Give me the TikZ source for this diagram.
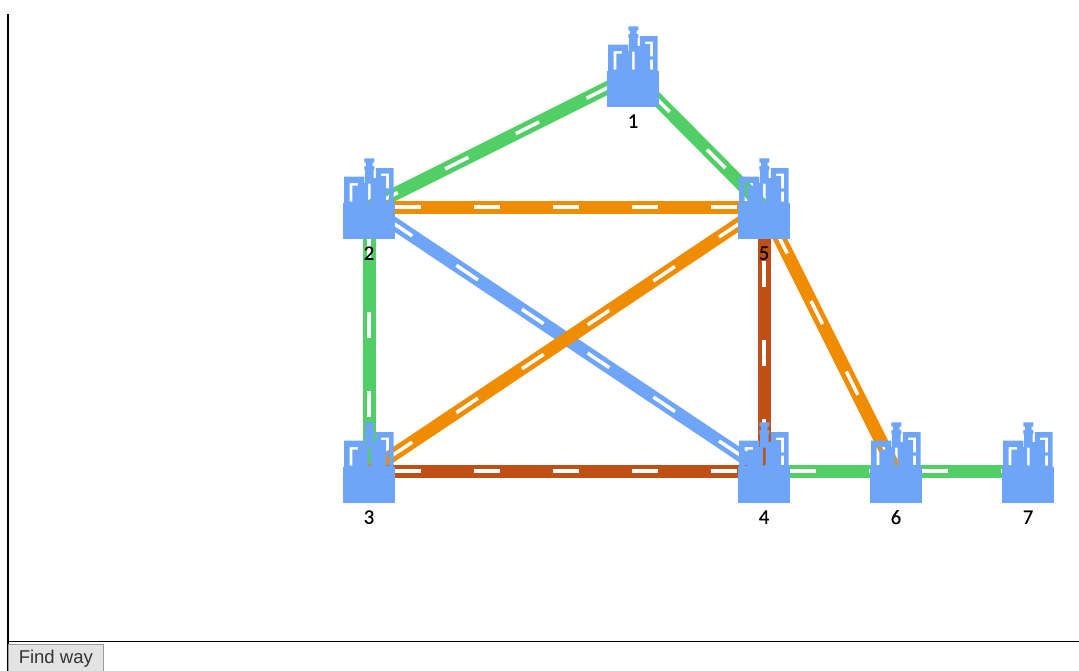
\documentclass[tikz,border=0pt]{standalone}
\usepackage{fontspec}
\setmainfont{Carlito}
\newfontfamily\btnfont{Liberation Sans}
\newfontfamily\numfont[FakeBold=0.2]{Carlito}
\definecolor{plantblue}{HTML}{6EA5F8}
\definecolor{roadgreen}{HTML}{51CF66}
\definecolor{roadorange}{HTML}{F08C00}
\definecolor{roadrust}{HTML}{C04F15}
\tikzset{
  road/.style={draw=#1,line width=9.75pt,
    postaction={draw=white,line width=2.6pt,dash pattern=on 19.5pt off 39.75pt,dash phase=39.75pt}},
  numlabel/.style={font=\numfont\fontsize{15.5}{18}\selectfont,inner sep=0pt,text=black},
  plant/.pic={
    \fill[plantblue] (-26,-4.3)rectangle(26,31.7);
    \fill[plantblue,even odd rule]
      (-25,-4)--(-25,-30.5)--(-4.7,-30.5)--(-4.7,-4)--cycle
      (-19.5,-5.5)--(-19.5,-24)--(-11,-24)--(-11,-21.5)--(-16.7,-21.5)--(-16.7,-5.5)--cycle;
    \fill[plantblue,even odd rule]
      (-4.8,-4)--(-4.8,-24)--(-3.8,-24)--(-3.8,-37)--(-4.7,-37)--(-4.7,-41)--(-3,-41)--(-3,-44.3)
      --(-4.7,-44.3)--(-4.7,-48.7)--(5.3,-48.7)--(5.3,-44.3)--(3.5,-44.3)--(3.5,-41)--(5.3,-41)
      --(5.3,-37)--(4.7,-37)--(4.7,-29)--(7,-29)--(7,-4)--cycle
      (-1,-5.5)--(-1,-23.5)--(1.7,-23.5)--(1.7,-5.5)--cycle;
    \fill[plantblue,even odd rule]
      (6.8,-4)--(6.8,-39)--(24.5,-39)--(24.5,-4)--cycle
      (12,-33.5)--(20,-33.5)--(20,-18.7)--(17.2,-18.7)--(17.2,-30.8)--(12,-30.8)--cycle
      (17.2,-15.3)--(20,-15.3)--(20,-5.5)--(17.2,-5.5)--cycle;
  },
}
\begin{document}
\begin{tikzpicture}[x=0.75pt,y=-0.75pt]
\useasboundingbox (0,0) rectangle (1079,671);
% stations
\coordinate (n1) at (633,75);
\coordinate (n2) at (369,207);
\coordinate (n3) at (369,471);
\coordinate (n4) at (764,471);
\coordinate (n5) at (764,207);
\coordinate (n6) at (896,471);
\coordinate (n7) at (1028,471);
% roads
\foreach \from/\to/\col in {n1/n2/roadgreen,n1/n5/roadgreen,n2/n3/roadgreen,n2/n5/roadorange,
  n2/n4/plantblue,n3/n5/roadorange,n3/n4/roadrust,n4/n5/roadrust,n5/n6/roadorange,
  n4/n6/roadgreen,n6/n7/roadgreen}
  \draw[road=\col] (\from) -- (\to);
% plants and numbers
\foreach \n in {1,...,7}{
  \pic at (n\n) {plant};
  \node[numlabel] (l\n) at ([yshift=-34.6pt]n\n) {\n};
}
% frame and button
\draw[line width=1.5pt] (8,14) -- (8,671);
\draw[line width=0.75pt] (8,641) -- (1079,641);
\node[draw=black!40,fill=black!11,line width=0.75pt,minimum width=71pt,minimum height=22pt,inner sep=0pt,
  anchor=north west,font=\btnfont\fontsize{13.9}{16}\selectfont,text=black!80] (findway) at (8,643.5) {Find way};
\end{tikzpicture}
\end{document}
